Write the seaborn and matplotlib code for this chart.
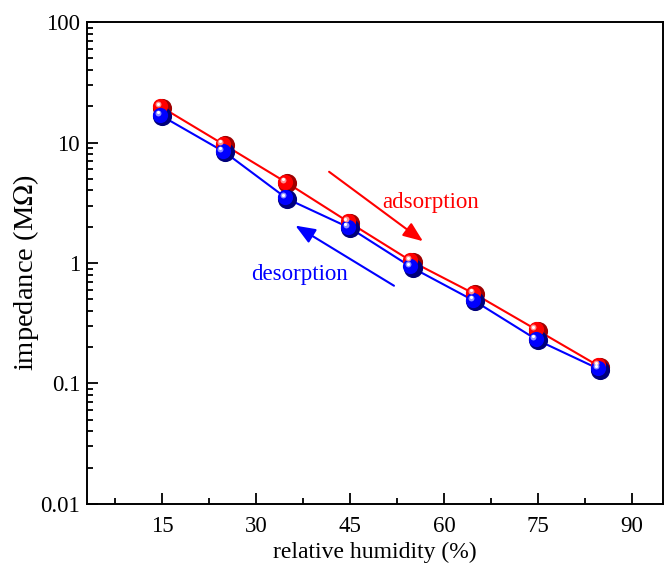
import numpy as np
import pandas as pd
import matplotlib
matplotlib.use('Agg')
import matplotlib.pyplot as plt
import seaborn as sns
from matplotlib.ticker import MultipleLocator, LogLocator, FixedFormatter, FixedLocator

# data
humidity = [15, 25, 35, 45, 55, 65, 75, 85]
adsorption = [19.5, 9.5, 4.6, 2.15, 1.02, 0.55, 0.275, 0.137]
desorption = [16.5, 8.3, 3.4, 1.95, 0.91, 0.48, 0.228, 0.130]

sns.set_theme(style='ticks')
plt.rcParams['font.family'] = ['Liberation Serif', 'DejaVu Serif']
plt.rcParams['mathtext.fontset'] = 'stix'

df = pd.DataFrame({
    'rh': humidity * 2,
    'z': adsorption + desorption,
    'mode': ['adsorption'] * len(humidity) + ['desorption'] * len(humidity),
})
colors = {'adsorption': '#ff0000', 'desorption': '#0000ff'}

fig = plt.figure(figsize=(6.7, 5.75), dpi=100)
ax = fig.add_axes([0.13, 0.1235, 0.8596, 0.8382])

sns.lineplot(data=df, x='rh', y='z', hue='mode', palette=colors, lw=1.5,
             legend=False, ax=ax, zorder=2)

# sphere-like markers: dark base, main colour, small highlight
for mode, dark, light in [('adsorption', '#a00000', '#ff9090'),
                          ('desorption', '#00007a', '#9090ff')]:
    sub = df[df['mode'] == mode]
    ax.scatter(sub['rh'], sub['z'], s=190, color=dark, zorder=3, linewidths=0)
    ax.scatter(sub['rh'] - 0.35, sub['z'] * 1.03, s=120, color=colors[mode],
               zorder=4, linewidths=0)
    ax.scatter(sub['rh'] - 0.7, sub['z'] * 1.07, s=18, color=light,
               zorder=5, linewidths=0)
    ax.scatter(sub['rh'] - 0.75, sub['z'] * 1.08, s=5, color='white',
               zorder=6, linewidths=0)

ax.set_yscale('log')
ax.set_xlim(3, 95)
ax.set_ylim(0.01, 100)

ax.xaxis.set_major_locator(MultipleLocator(15))
ax.xaxis.set_minor_locator(MultipleLocator(7.5))
ax.yaxis.set_major_locator(FixedLocator([0.01, 0.1, 1, 10, 100]))
ax.yaxis.set_major_formatter(FixedFormatter(['0.01', '0.1', '1', '10', '100']))
ax.yaxis.set_minor_locator(LogLocator(base=10, subs=np.arange(2, 10)))

ax.tick_params(which='both', direction='in', top=False, right=False,
               labelsize=16.5, width=1.3, color='black', labelcolor='black')
ax.tick_params(which='major', length=8)
ax.tick_params(axis='y', which='major', pad=5)
ax.tick_params(axis='x', which='major', pad=9)
ax.tick_params(which='minor', length=4.5)
for s in ax.spines.values():
    s.set_linewidth(1.4)
    s.set_color('black')

ax.set_xlabel('relative humidity (%)', fontsize=17, labelpad=3, color='black')
ax.set_ylabel('impedance (M$\\Omega$)', fontsize=20.5, color='black')
ax.yaxis.set_label_coords(-0.08, 0.48)

# direction arrows and labels
ax.annotate('', xy=(57, 1.47), xytext=(41.3, 5.9),
            arrowprops=dict(arrowstyle='-|>,head_length=1.0,head_width=0.4',
                            color='#ff0000', lw=1.5))
ax.text(57.8, 3.2, 'adsorption', color='#ff0000', fontsize=16.5,
        ha='center', va='center')
ax.annotate('', xy=(35.9, 2.1), xytext=(52.4, 0.63),
            arrowprops=dict(arrowstyle='-|>,head_length=1.0,head_width=0.4',
                            color='#0000ff', lw=1.5))
ax.text(37, 0.81, 'desorption', color='#0000ff', fontsize=16.5,
        ha='center', va='center')

fig.savefig('out.png', dpi=100)
